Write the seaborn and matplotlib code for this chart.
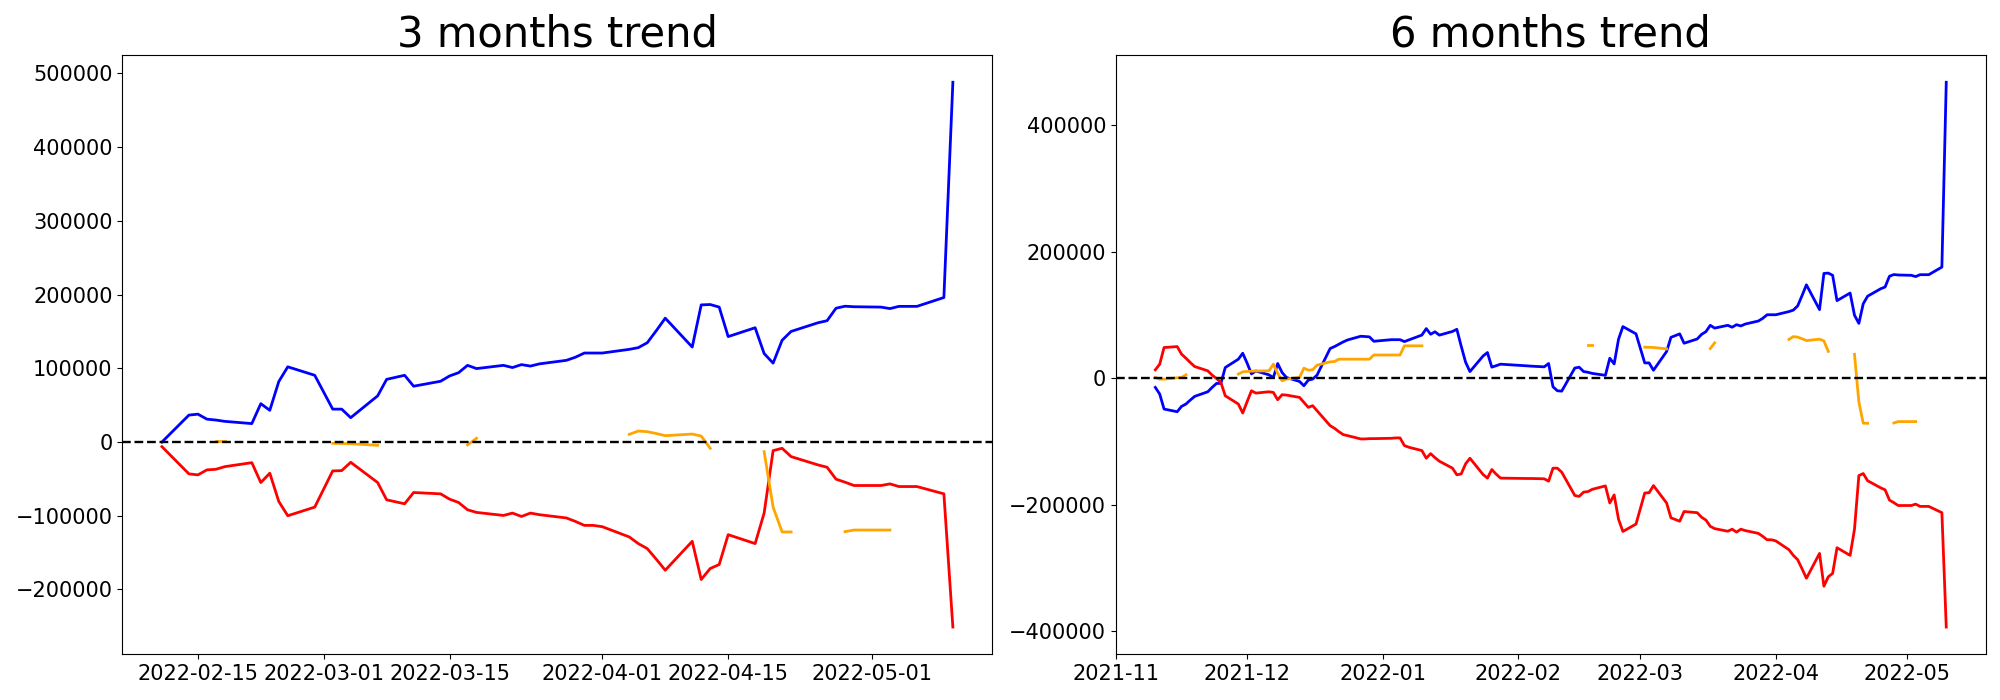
import numpy as np
import pandas as pd
import matplotlib
matplotlib.use("Agg")
import matplotlib.pyplot as plt
import matplotlib.dates as mdates
import seaborn as sns

nan = np.nan

# ---------------- 3 months panel ----------------
short_dates = [
    "2022-02-11", "2022-02-14", "2022-02-15", "2022-02-16", "2022-02-17", "2022-02-18",
    "2022-02-21", "2022-02-22", "2022-02-23", "2022-02-24", "2022-02-25", "2022-02-28",
    "2022-03-02", "2022-03-03", "2022-03-04", "2022-03-07", "2022-03-08", "2022-03-10",
    "2022-03-11", "2022-03-14", "2022-03-15", "2022-03-16", "2022-03-17", "2022-03-18",
    "2022-03-21", "2022-03-22", "2022-03-23", "2022-03-24", "2022-03-25", "2022-03-28",
    "2022-03-29", "2022-03-30", "2022-03-31", "2022-04-01", "2022-04-04", "2022-04-05",
    "2022-04-06", "2022-04-07", "2022-04-08", "2022-04-11", "2022-04-12", "2022-04-13",
    "2022-04-14", "2022-04-15", "2022-04-18", "2022-04-19", "2022-04-20", "2022-04-21",
    "2022-04-22", "2022-04-25", "2022-04-26", "2022-04-27", "2022-04-28", "2022-04-29",
    "2022-05-02", "2022-05-03", "2022-05-04", "2022-05-06", "2022-05-09", "2022-05-10",
]
short_blue = [
    0, 36500, 37800, 31000, 29800, 28000, 25000, 52000, 43000, 82000, 102000, 90500,
    44600, 44600, 33000, 62600, 85000, 90500, 75700, 82400, 89600, 94000, 104000, 99600,
    104000, 101000, 105000, 103000, 106000, 110800, 115000, 120700, 120700, 120700, 125700, 128000,
    134700, 151000, 168000, 128800, 186000, 186500, 183000, 143000, 155000, 120000, 107000, 138000,
    150000, 161800, 164500, 181500, 184200, 183500, 183000, 181000, 184000, 184000, 196000, 488000,
]
short_red = [
    -6300, -43200, -44600, -37800, -37000, -33400, -28000, -55000, -42300, -80700, -100000, -88300,
    -39200, -38800, -27500, -55000, -78400, -83800, -68500, -70300, -77500, -82000, -91900, -95500,
    -99600, -96400, -101000, -96400, -98600, -103000, -107700, -113100, -113100, -114900, -128800, -137800,
    -144600, -159000, -173900, -134700, -186500, -171600, -166200, -125700, -137800, -96400, -11700, -8500,
    -19800, -31100, -34200, -50400, -54500, -59000, -59000, -56800, -60400, -60400, -70300, -251000,
]
short_orange = [
    nan, nan, nan, nan, 1500, 1500, nan, nan, nan, nan, nan, nan,
    -1800, -2000, -2300, -4500, nan, nan, nan, nan, nan, nan, -4000, 5000,
    nan, nan, nan, nan, nan, nan, nan, nan, nan, nan, 10400, 14900,
    14000, 11500, 8600, 10800, 8100, -8500, nan, nan, nan, -13100, -88300, -122000,
    -122000, nan, nan, nan, -121600, -119400, -119400, -119400, nan, nan, nan, nan,
]

# ---------------- 6 months panel ----------------
long_dates = [
    "2021-11-10", "2021-11-11", "2021-11-12", "2021-11-15", "2021-11-16", "2021-11-17",
    "2021-11-18", "2021-11-19", "2021-11-22", "2021-11-23", "2021-11-24", "2021-11-25",
    "2021-11-26", "2021-11-29", "2021-11-30",
    "2021-12-01", "2021-12-02", "2021-12-03", "2021-12-06", "2021-12-07", "2021-12-08",
    "2021-12-09", "2021-12-10", "2021-12-13", "2021-12-14", "2021-12-15", "2021-12-16",
    "2021-12-17", "2021-12-20", "2021-12-21", "2021-12-22", "2021-12-23", "2021-12-24",
    "2021-12-27", "2021-12-28", "2021-12-29", "2021-12-30",
    "2022-01-03", "2022-01-04", "2022-01-05", "2022-01-06", "2022-01-07", "2022-01-10",
    "2022-01-11", "2022-01-12", "2022-01-13", "2022-01-14", "2022-01-17", "2022-01-18",
    "2022-01-19", "2022-01-20", "2022-01-21", "2022-01-24", "2022-01-25", "2022-01-26",
    "2022-01-27", "2022-01-28",
    "2022-02-03", "2022-02-04", "2022-02-07", "2022-02-08", "2022-02-09", "2022-02-10",
] + short_dates
long_blue = [
    -14400, -24900, -48600, -52800, -44400, -40700, -34400, -28600, -21300, -14400, -8100, -8100,
    17000, 30200, 39600,
    24000, 7000, 11500, 5500, 1000, 23400, 9200, 1300, -5000, -11800, -2900, -1300,
    5000, 47000, 50100, 53800, 57500, 60600, 66400, 66000, 65400, 58500,
    61000, 61000, 61000, 58000, 60600, 68300, 78500, 69600, 73500, 68200, 74000, 77400,
    50700, 25500, 10600, 35200, 40700, 17600, 19900, 22300,
    19700, 19200, 18100, 23400, -13400, -19700,
    -20300, 16200, 17500, 10700, 9500, 7700, 4700, 31700, 22700, 61700, 81700, 70200,
    24300, 24300, 12700, 42300, 64700, 70200, 55400, 62100, 69300, 73700, 83700, 79300,
    83700, 80700, 84700, 82700, 85700, 90500, 94700, 100400, 100400, 100400, 105400, 107700,
    114400, 130700, 147700, 108500, 165700, 166200, 162700, 122700, 134700, 99700, 86700, 117700,
    129700, 141500, 144200, 161200, 163900, 163200, 162700, 160700, 163700, 163700, 175700, 467700,
]
long_red = [
    13400, 22300, 48600, 50100, 38100, 31800, 24900, 18600, 11800, 5000, -300, -6600,
    -27600, -40700, -54900,
    -37000, -19700, -23400, -21300, -22300, -33900, -26000, -26500, -30200, -38000, -45900, -43300,
    -51200, -74800, -79000, -84300, -89000, -90600, -95800, -95800, -95300, -95300,
    -94800, -94200, -94200, -106300, -108900, -114200, -126300, -119000, -125400, -131000, -142000, -152500,
    -151000, -135200, -126300, -152000, -157700, -144100, -151500, -157700,
    -158300, -158300, -158800, -162500, -142000, -142000,
    -148300, -185200, -186600, -179800, -179000, -175400, -170000, -197000, -184300, -222700, -242000, -230300,
    -181200, -180800, -169500, -197000, -220400, -225800, -210500, -212300, -219500, -224000, -233900, -237500,
    -241600, -238400, -243000, -238400, -240600, -245000, -249700, -255100, -255100, -256900, -270800, -279800,
    -286600, -301000, -315900, -276700, -328500, -313600, -308200, -267700, -279800, -238400, -153700, -150500,
    -161800, -173100, -176200, -192400, -196500, -201000, -201000, -198800, -202400, -202400, -212300, -393000,
]
long_orange = [
    1300, -1300, -1300, 800, 1300, 5500, nan, nan, nan, nan, nan, nan,
    nan, 6600, 10200,
    10800, 11200, 11500, 11800, 22300, 8000, -3900, -1300, 1300, 16000, 12900, 13400,
    20700, 26000, 26500, 30200, 30200, 30200, 30200, 30200, 30200, 36800,
    36800, 36800, 36800, 51300, 51300, 51300, nan, nan, nan, nan, nan, nan,
    nan, nan, nan, nan, nan, nan, nan, nan,
    nan, nan, nan, nan, nan, nan,
    nan, nan, nan, nan, 52500, 52500, nan, nan, nan, nan, nan, nan,
    49200, 49000, 48700, 46500, nan, nan, nan, nan, nan, nan, 47000, 56000,
    nan, nan, nan, nan, nan, nan, nan, nan, nan, nan, 61400, 65900,
    65000, 62500, 59600, 61800, 59100, 42500, nan, nan, nan, 37900, -37300, -71000,
    -71000, nan, nan, nan, -70600, -68400, -68400, -68400, nan, nan, nan, nan,
]


def draw(ax, dates, blue, red, orange, title):
    df = pd.DataFrame({
        "date": pd.to_datetime(dates),
        "blue": blue,
        "red": red,
        "orange": orange,
    })
    df["seg"] = df["orange"].isna().cumsum()
    sns.lineplot(data=df, x="date", y="blue", color="blue", linewidth=2, ax=ax)
    sns.lineplot(data=df, x="date", y="red", color="red", linewidth=2, ax=ax)
    od = df.dropna(subset=["orange"])
    sns.lineplot(data=od, x="date", y="orange", units="seg", estimator=None,
                 color="orange", linewidth=2, ax=ax)
    ax.axhline(0, color="black", linestyle="--", linewidth=1.7)
    ax.set_title(title, fontsize=30)
    ax.set_xlabel("")
    ax.set_ylabel("")
    ax.tick_params(labelsize=15)


fig, axes = plt.subplots(1, 2, figsize=(20, 7), dpi=100)
draw(axes[0], short_dates, short_blue, short_red, short_orange, "3 months trend")
draw(axes[1], long_dates, long_blue, long_red, long_orange, "6 months trend")

axes[0].xaxis.set_major_locator(mdates.DayLocator(bymonthday=[1, 15]))
axes[0].xaxis.set_major_formatter(mdates.DateFormatter("%Y-%m-%d"))
axes[1].xaxis.set_major_locator(mdates.MonthLocator())
axes[1].xaxis.set_major_formatter(mdates.DateFormatter("%Y-%m"))

fig.subplots_adjust(left=0.0612, right=0.9929, bottom=0.0653, top=0.9214, wspace=0.1418)
fig.savefig("out.png", dpi=100)
